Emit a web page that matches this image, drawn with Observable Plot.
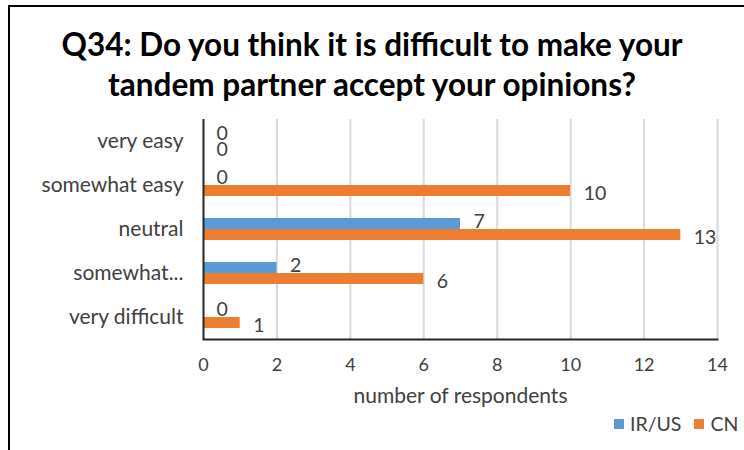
<!DOCTYPE html>
<html>
<head>
<meta charset="utf-8">
<script src="https://cdn.jsdelivr.net/npm/d3@7"></script>
<script src="https://cdn.jsdelivr.net/npm/@observablehq/plot@0.6"></script>
<style>
  body { margin: 0; background: #fff; }
  #wrap { position: relative; width: 744px; height: 450px; overflow: hidden; background: #fff; font-family: Lato, "Open Sans", sans-serif; }
  #bleft { position: absolute; left: 8px; top: 5px; width: 2px; height: 450px; background: #000; }
  #btop { position: absolute; left: 8px; top: 5px; width: 740px; height: 2px; background: #000; }
  #title { position: absolute; left: 0; width: 744px; top: 24px; text-align: center; font-weight: bold; font-size: 31.5px; line-height: 40px; color: #000; }
  #chart { position: absolute; left: 0; top: 110px; }
  #chart g[aria-label="fy-axis tick label"] { font-size: 21px; }
  #chart g[aria-label="x-axis tick label"] { font-size: 18px; }
  #legend { position: absolute; top: 412px; left: 614px; font-size: 19.5px; color: #404040; display: flex; align-items: center; white-space: nowrap; }
  #legend .sw { display: inline-block; width: 10px; height: 10px; margin-right: 6px; }
  #legend .item { display: inline-flex; align-items: center; margin-right: 13px; }
</style>
</head>
<body>
<div id="wrap">
  <div id="bleft"></div>
  <div id="btop"></div>
  <div id="title">Q34: Do you think it is difficult to make your<br>tandem partner accept your opinions?</div>
  <div id="chart"></div>
  <div id="legend"></div>
</div>
<script>
const categories = ["very easy", "somewhat easy", "neutral", "somewhat...", "very difficult"];
const series = ["IR/US", "CN"];
const irusValues = [0, 0, 7, 2, 0];
const cnValues = [0, 10, 13, 6, 1];
const xTicks = [0, 2, 4, 6, 8, 10, 12, 14];
const colors = ["#5B9BD5", "#ED7D31"];
const axisTitle = "number of respondents";

const data = [];
categories.forEach((c, i) => {
  data.push({category: c, series: series[0], value: irusValues[i]});
  data.push({category: c, series: series[1], value: cnValues[i]});
});

const textColor = "#404040";

const chart = Plot.plot({
  width: 744,
  height: 300,
  marginLeft: 203,
  marginRight: 27,
  marginTop: 7,
  marginBottom: 69,
  style: {fontFamily: "Lato, 'Open Sans', sans-serif", fontSize: "16px", color: textColor, background: "transparent"},
  x: {domain: [0, 14], ticks: xTicks, tickSize: 0, tickPadding: 19, label: null, tickFormat: d => String(d)},
  fy: {domain: categories, padding: 0, label: null, tickSize: 0, tickPadding: 20, axis: "left"},
  y: {domain: series, paddingInner: 0, paddingOuter: 0.95, axis: null},
  color: {domain: series, range: colors},
  marks: [
    Plot.gridX(xTicks.filter(d => d > 0), {stroke: "#d9d9d9", strokeOpacity: 1, strokeWidth: 2}),
    Plot.barX(data, {fy: "category", y: "series", x: "value", fill: "series"}),
    Plot.text(data.filter(d => d.series === series[0]), {fy: "category", y: "series", x: "value", text: d => String(d.value), textAnchor: "start", dx: 13, dy: -2, fill: textColor, fontSize: 19.5}),
    Plot.text(data.filter(d => d.series === series[1]), {fy: "category", y: "series", x: "value", text: d => String(d.value), textAnchor: "start", dx: 13, dy: 3, fill: textColor, fontSize: 19.5}),
    Plot.ruleX([0], {stroke: "#262626", strokeWidth: 2}),
    Plot.frame({anchor: "bottom", facetAnchor: "bottom", stroke: "#262626", strokeWidth: 2}),
    Plot.text([axisTitle], {frameAnchor: "bottom", facetAnchor: "bottom", dy: 57, text: d => d, fill: textColor, fontSize: 21, lineAnchor: "middle"})
  ]
});
document.getElementById("chart").appendChild(chart);

const legend = document.getElementById("legend");
series.forEach((s, i) => {
  const item = document.createElement("span");
  item.className = "item";
  const sw = document.createElement("span");
  sw.className = "sw";
  sw.style.background = colors[i];
  item.appendChild(sw);
  item.appendChild(document.createTextNode(s));
  legend.appendChild(item);
});
</script>
</body>
</html>
